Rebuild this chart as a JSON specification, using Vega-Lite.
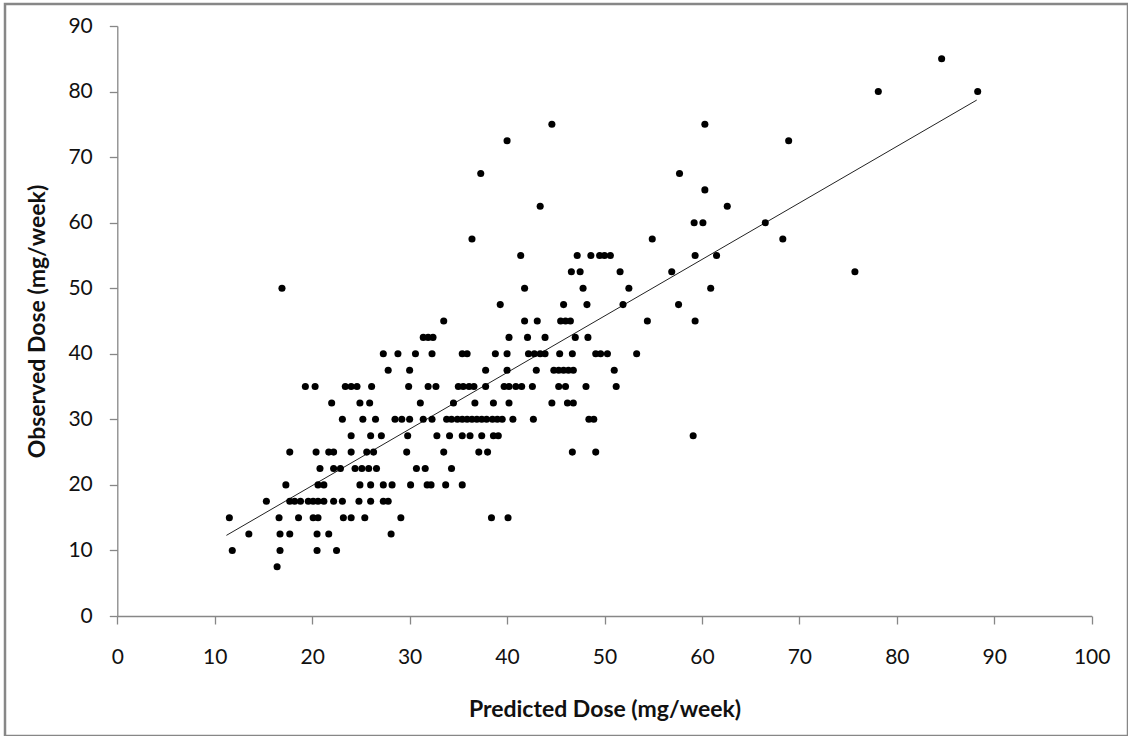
{
  "$schema": "https://vega.github.io/schema/vega-lite/v6.json",
  "autosize": {"type": "none"},
  "padding": {"left": 5, "top": 4, "right": 0, "bottom": 0},
  "width": 1123,
  "height": 732,
  "background": "white",
  "config": {
    "view": {"stroke": "#878787", "strokeWidth": 2.5},
    "font": "Lato"
  },
  "datasets": {
    "points": [
      {"pred":16.4,"obs":7.5},
      {"pred":11.8,"obs":10},{"pred":16.7,"obs":10},{"pred":20.5,"obs":10},{"pred":22.5,"obs":10},
      {"pred":13.5,"obs":12.5},{"pred":16.7,"obs":12.5},{"pred":17.7,"obs":12.5},{"pred":20.5,"obs":12.5},{"pred":21.7,"obs":12.5},{"pred":28.1,"obs":12.5},
      {"pred":11.5,"obs":15},{"pred":16.6,"obs":15},{"pred":18.6,"obs":15},{"pred":20.1,"obs":15},{"pred":20.6,"obs":15},{"pred":23.2,"obs":15},{"pred":24.0,"obs":15},{"pred":25.4,"obs":15},{"pred":29.1,"obs":15},{"pred":38.4,"obs":15},{"pred":40.1,"obs":15},
      {"pred":15.3,"obs":17.5},{"pred":17.7,"obs":17.5},{"pred":18.2,"obs":17.5},{"pred":18.8,"obs":17.5},{"pred":19.6,"obs":17.5},{"pred":20.1,"obs":17.5},{"pred":20.6,"obs":17.5},{"pred":21.2,"obs":17.5},{"pred":22.2,"obs":17.5},{"pred":23.1,"obs":17.5},{"pred":24.8,"obs":17.5},{"pred":26.0,"obs":17.5},{"pred":27.3,"obs":17.5},{"pred":27.8,"obs":17.5},
      {"pred":17.3,"obs":20},{"pred":20.6,"obs":20},{"pred":21.2,"obs":20},{"pred":24.9,"obs":20},{"pred":26.0,"obs":20},{"pred":27.3,"obs":20},{"pred":28.2,"obs":20},{"pred":30.1,"obs":20},{"pred":31.8,"obs":20},{"pred":32.2,"obs":20},{"pred":33.7,"obs":20},{"pred":35.4,"obs":20},
      {"pred":20.8,"obs":22.5},{"pred":22.2,"obs":22.5},{"pred":22.9,"obs":22.5},{"pred":24.4,"obs":22.5},{"pred":25.1,"obs":22.5},{"pred":25.8,"obs":22.5},{"pred":26.6,"obs":22.5},{"pred":30.7,"obs":22.5},{"pred":31.6,"obs":22.5},{"pred":34.3,"obs":22.5},
      {"pred":17.7,"obs":25},{"pred":20.4,"obs":25},{"pred":21.7,"obs":25},{"pred":22.2,"obs":25},{"pred":24.0,"obs":25},{"pred":25.6,"obs":25},{"pred":26.3,"obs":25},{"pred":29.7,"obs":25},{"pred":33.5,"obs":25},{"pred":37.1,"obs":25},{"pred":38.0,"obs":25},{"pred":46.7,"obs":25},{"pred":49.1,"obs":25},
      {"pred":24.0,"obs":27.5},{"pred":26.0,"obs":27.5},{"pred":27.1,"obs":27.5},{"pred":29.8,"obs":27.5},{"pred":32.8,"obs":27.5},{"pred":34.1,"obs":27.5},{"pred":35.4,"obs":27.5},{"pred":36.2,"obs":27.5},{"pred":37.4,"obs":27.5},{"pred":38.6,"obs":27.5},{"pred":39.1,"obs":27.5},{"pred":59.1,"obs":27.5},
      {"pred":23.1,"obs":30},{"pred":25.2,"obs":30},{"pred":26.5,"obs":30},{"pred":28.5,"obs":30},{"pred":29.2,"obs":30},{"pred":30.0,"obs":30},{"pred":31.4,"obs":30},{"pred":32.3,"obs":30},{"pred":33.8,"obs":30},{"pred":34.3,"obs":30},{"pred":34.9,"obs":30},{"pred":35.4,"obs":30},{"pred":35.9,"obs":30},{"pred":36.4,"obs":30},{"pred":36.9,"obs":30},{"pred":37.4,"obs":30},{"pred":37.9,"obs":30},{"pred":38.5,"obs":30},{"pred":39.0,"obs":30},{"pred":39.5,"obs":30},{"pred":40.6,"obs":30},{"pred":42.7,"obs":30},{"pred":48.4,"obs":30},{"pred":48.9,"obs":30},
      {"pred":22.0,"obs":32.5},{"pred":24.9,"obs":32.5},{"pred":25.9,"obs":32.5},{"pred":31.1,"obs":32.5},{"pred":34.5,"obs":32.5},{"pred":36.7,"obs":32.5},{"pred":38.6,"obs":32.5},{"pred":40.2,"obs":32.5},{"pred":44.6,"obs":32.5},{"pred":46.2,"obs":32.5},{"pred":46.8,"obs":32.5},
      {"pred":19.3,"obs":35},{"pred":20.3,"obs":35},{"pred":23.4,"obs":35},{"pred":24.0,"obs":35},{"pred":24.6,"obs":35},{"pred":26.1,"obs":35},{"pred":29.9,"obs":35},{"pred":31.9,"obs":35},{"pred":32.7,"obs":35},{"pred":35.0,"obs":35},{"pred":35.5,"obs":35},{"pred":36.1,"obs":35},{"pred":36.6,"obs":35},{"pred":37.8,"obs":35},{"pred":39.7,"obs":35},{"pred":40.2,"obs":35},{"pred":40.9,"obs":35},{"pred":41.5,"obs":35},{"pred":42.6,"obs":35},{"pred":45.3,"obs":35},{"pred":46.0,"obs":35},{"pred":48.1,"obs":35},{"pred":51.2,"obs":35},
      {"pred":27.8,"obs":37.5},{"pred":30.0,"obs":37.5},{"pred":37.8,"obs":37.5},{"pred":40.0,"obs":37.5},{"pred":43.0,"obs":37.5},{"pred":44.8,"obs":37.5},{"pred":45.3,"obs":37.5},{"pred":45.8,"obs":37.5},{"pred":46.3,"obs":37.5},{"pred":46.8,"obs":37.5},{"pred":51.0,"obs":37.5},
      {"pred":27.3,"obs":40},{"pred":28.8,"obs":40},{"pred":30.6,"obs":40},{"pred":32.3,"obs":40},{"pred":35.4,"obs":40},{"pred":35.9,"obs":40},{"pred":38.8,"obs":40},{"pred":40.0,"obs":40},{"pred":42.2,"obs":40},{"pred":42.8,"obs":40},{"pred":43.4,"obs":40},{"pred":43.9,"obs":40},{"pred":45.4,"obs":40},{"pred":46.7,"obs":40},{"pred":49.1,"obs":40},{"pred":49.6,"obs":40},{"pred":50.3,"obs":40},{"pred":53.3,"obs":40},
      {"pred":31.4,"obs":42.5},{"pred":31.9,"obs":42.5},{"pred":32.4,"obs":42.5},{"pred":40.2,"obs":42.5},{"pred":42.1,"obs":42.5},{"pred":43.9,"obs":42.5},{"pred":47.0,"obs":42.5},{"pred":48.3,"obs":42.5},
      {"pred":33.5,"obs":45},{"pred":41.8,"obs":45},{"pred":43.1,"obs":45},{"pred":45.5,"obs":45},{"pred":46.0,"obs":45},{"pred":46.5,"obs":45},{"pred":54.4,"obs":45},{"pred":59.3,"obs":45},
      {"pred":39.3,"obs":47.5},{"pred":45.8,"obs":47.5},{"pred":48.2,"obs":47.5},{"pred":51.9,"obs":47.5},{"pred":57.6,"obs":47.5},
      {"pred":16.9,"obs":50},{"pred":41.8,"obs":50},{"pred":47.8,"obs":50},{"pred":52.5,"obs":50},{"pred":60.9,"obs":50},
      {"pred":46.6,"obs":52.5},{"pred":47.5,"obs":52.5},{"pred":51.6,"obs":52.5},{"pred":56.9,"obs":52.5},{"pred":75.7,"obs":52.5},
      {"pred":41.4,"obs":55},{"pred":47.2,"obs":55},{"pred":48.6,"obs":55},{"pred":49.5,"obs":55},{"pred":50.0,"obs":55},{"pred":50.6,"obs":55},{"pred":59.3,"obs":55},{"pred":61.5,"obs":55},
      {"pred":36.4,"obs":57.5},{"pred":54.9,"obs":57.5},{"pred":68.3,"obs":57.5},
      {"pred":59.2,"obs":60},{"pred":60.1,"obs":60},{"pred":66.5,"obs":60},
      {"pred":43.4,"obs":62.5},{"pred":62.6,"obs":62.5},
      {"pred":60.3,"obs":65},
      {"pred":37.3,"obs":67.5},{"pred":57.7,"obs":67.5},
      {"pred":40.0,"obs":72.5},{"pred":68.9,"obs":72.5},
      {"pred":44.6,"obs":75},{"pred":60.3,"obs":75},
      {"pred":78.1,"obs":80},{"pred":88.3,"obs":80},
      {"pred":84.6,"obs":85}
    ],
    "trend": [
      {"pred":11.2,"obs":12.3},
      {"pred":88.2,"obs":78.7}
    ]
  },
  "layer": [
    {
      "data": {"name": "trend"},
      "mark": {"type": "line", "color": "#222222", "strokeWidth": 1},
      "encoding": {
        "x": {"field": "pred", "type": "quantitative"},
        "y": {"field": "obs", "type": "quantitative"}
      }
    },
    {
      "data": {"name": "points"},
      "mark": {"type": "circle", "color": "#000000", "opacity": 1, "size": 50},
      "encoding": {
        "x": {"field": "pred", "type": "quantitative"},
        "y": {"field": "obs", "type": "quantitative"}
      }
    }
  ],
  "resolve": {"scale": {"x": "shared", "y": "shared"}},
  "encoding": {
    "x": {
      "field": "pred", "type": "quantitative",
      "scale": {"domain": [0, 100], "range": [112.3, 1086.7], "nice": false, "zero": false},
      "axis": {
        "title": "Predicted Dose (mg/week)",
        "orient": "bottom",
        "offset": -120,
        "values": [0,10,20,30,40,50,60,70,80,90,100],
        "grid": false,
        "labelFlush": false,
        "domainColor": "#878787", "domainWidth": 1.3,
        "tickColor": "#878787", "tickWidth": 1.3, "tickSize": 8,
        "labelFont": "Lato", "labelFontSize": 21, "labelColor": "#111111", "labelPadding": 22,
        "titleFont": "Lato", "titleFontSize": 23, "titleFontWeight": "bold", "titleColor": "#111111", "titlePadding": 31
      }
    },
    "y": {
      "field": "obs", "type": "quantitative",
      "scale": {"domain": [0, 90], "range": [612, 22], "nice": false, "zero": false},
      "axis": {
        "title": "Observed Dose (mg/week)",
        "orient": "left",
        "offset": -112.3,
        "values": [0,10,20,30,40,50,60,70,80,90],
        "grid": false,
        "labelFlush": false,
        "domainColor": "#878787", "domainWidth": 1.3,
        "tickColor": "#878787", "tickWidth": 1.3, "tickSize": 8,
        "labelFont": "Lato", "labelFontSize": 21, "labelColor": "#111111", "labelPadding": 17,
        "titleFont": "Lato", "titleFontSize": 23, "titleFontWeight": "bold", "titleColor": "#111111", "titlePadding": 18
      }
    }
  }
}
